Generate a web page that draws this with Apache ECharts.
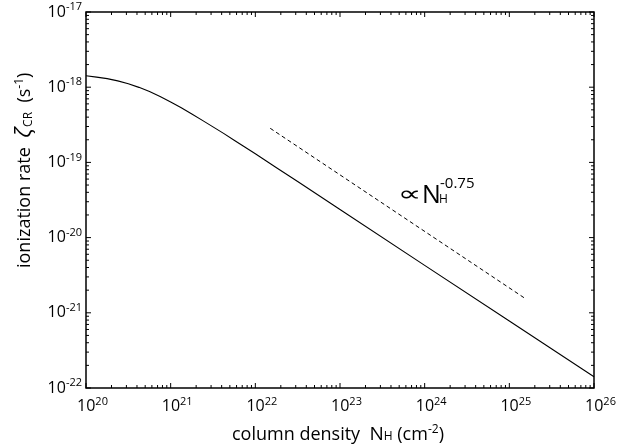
<!DOCTYPE html>
<html>
<head>
<meta charset="utf-8">
<script src="https://cdn.jsdelivr.net/npm/echarts@6/dist/echarts.min.js"></script>
<style>
html,body{margin:0;padding:0;background:#fff;}
#c{width:634px;height:448px;}
</style>
</head>
<body>
<div id="c"></div>
<script>
// Column density N_H (cm^-2)
var columnDensity = [1e20, 1.334e20, 1.778e20, 2.371e20, 3.162e20, 4.217e20, 5.623e20, 7.499e20,
  1e21, 1.334e21, 1.778e21, 2.371e21, 3.162e21, 4.217e21, 5.623e21, 7.499e21,
  1e22, 1.778e22, 3.162e22, 1e23, 1e24, 1e25, 1e26];
// Ionization rate zeta_CR (s^-1)
var ionizationRate = [1.419e-18, 1.361e-18, 1.300e-18, 1.213e-18, 1.114e-18, 9.95e-19, 8.75e-19, 7.52e-19,
  6.37e-19, 5.32e-19, 4.41e-19, 3.62e-19, 2.97e-19, 2.43e-19, 1.97e-19, 1.60e-19,
  1.30e-19, 8.51e-20, 5.56e-20, 2.36e-20, 4.27e-21, 7.76e-22, 1.41e-22];
// Power-law guide  ∝ N_H^-0.75
var guideN = [1.5e22, 1.5e25];
var guideZeta = [2.84e-19, 1.58e-21];
// Axis limits / tick labels
var xTicks = [1e20, 1e21, 1e22, 1e23, 1e24, 1e25, 1e26];
var yTicks = [1e-22, 1e-21, 1e-20, 1e-19, 1e-18, 1e-17];

// ECharts' log scale rounds to 10 decimals, so plot in units of the axis minimum
var XU = xTicks[0], YU = yTicks[0];
var XE = Math.round(Math.log10(XU)), YE = Math.round(Math.log10(YU));

var FONT = 'Open Sans';
var chart = echarts.init(document.getElementById('c'), null, {renderer: 'canvas'});

function pairs(a, b) { return a.map(function (v, i) { return [v / XU, b[i] / YU]; }); }
function lab(off) {
  return function (v) {
    var e = Math.round(Math.log10(v)) + off;
    return '{a|10}{s|' + e + '}';
  };
}
var richY = {
  a: {fontSize: 16, fontFamily: FONT, color: '#000'},
  s: {fontSize: 11, fontFamily: FONT, color: '#000', padding: [0, 0, 10, 0]}
};
var richX = {
  a: {fontSize: 16, fontFamily: FONT, color: '#000', padding: [0, 0, 0, 13]},
  s: {fontSize: 11, fontFamily: FONT, color: '#000', padding: [0, 0, 10, 0]}
};

// tick marks (major & minor) drawn through the axes' scales
function tickRender(params, api) {
  var children = [];
  var x0 = xTicks[0] / XU, x1 = xTicks[xTicks.length - 1] / XU;
  var y0 = yTicks[0] / YU, y1 = yTicks[yTicks.length - 1] / YU;
  var bl = api.coord([x0, y0]);
  var tr = api.coord([x1, y1]);
  var left = bl[0], bottom = bl[1], right = tr[0], top = tr[1];
  var st = {stroke: '#000', lineWidth: 1};
  function seg(a, b, c, d) {
    children.push({type: 'line', shape: {x1: a, y1: b, x2: c, y2: d}, style: st, silent: true});
  }
  var i, k, p;
  for (i = 0; i < xTicks.length; i++) {
    var dec = xTicks[i] / XU;
    p = api.coord([dec, y0])[0];
    seg(p, bottom, p, bottom - 5); seg(p, top, p, top + 5);
    if (i < xTicks.length - 1) {
      for (k = 2; k <= 9; k++) {
        p = api.coord([dec * k, y0])[0];
        seg(p, bottom, p, bottom - 3); seg(p, top, p, top + 3);
      }
    }
  }
  for (i = 0; i < yTicks.length; i++) {
    var d = yTicks[i] / YU;
    p = api.coord([x0, d])[1];
    seg(left, p, left + 5, p); seg(right, p, right - 5, p);
    if (i < yTicks.length - 1) {
      for (k = 2; k <= 9; k++) {
        p = api.coord([x0, d * k])[1];
        seg(left, p, left + 3, p); seg(right, p, right - 3, p);
      }
    }
  }
  return {type: 'group', children: children};
}

var option = {
  animation: false,
  backgroundColor: '#fff',
  grid: {left: 86, right: 40, top: 12, bottom: 60, show: true, borderColor: '#000', borderWidth: 1.5, backgroundColor: 'transparent'},
  xAxis: {
    type: 'log', logBase: 10, min: xTicks[0] / XU, max: xTicks[xTicks.length - 1] / XU,
    axisLine: {show: false}, axisTick: {show: false}, splitLine: {show: false},
    axisLabel: {formatter: lab(XE), rich: richX, margin: 8, color: '#000'}
  },
  yAxis: {
    type: 'log', logBase: 10, min: yTicks[0] / YU, max: yTicks[yTicks.length - 1] / YU,
    axisLine: {show: false}, axisTick: {show: false}, splitLine: {show: false},
    axisLabel: {formatter: lab(YE), rich: richY, margin: 4, color: '#000'}
  },
  series: [
    {type: 'line', data: pairs(columnDensity, ionizationRate), symbol: 'none', smooth: false,
     lineStyle: {color: '#000', width: 1.1}, silent: true},
    {type: 'line', data: pairs(guideN, guideZeta), symbol: 'none',
     lineStyle: {color: '#000', width: 1, type: [4, 3]}, silent: true},
    {type: 'custom', renderItem: tickRender, data: [[10, 10]], silent: true, clip: false, z: 5}
  ],
  graphic: [
    {type: 'text', left: 232, top: 424, style: {
      text: '{t|column density  }{n|N}{h|H}{t| (cm}{u|-2}{t|)}',
      rich: {
        t: {fontSize: 18, fontFamily: FONT, fill: '#000'},
        n: {fontSize: 19, fontFamily: FONT, fill: '#000'},
        h: {fontSize: 12, fontFamily: FONT, fill: '#000', padding: [4, 0, 0, 0]},
        u: {fontSize: 12, fontFamily: FONT, fill: '#000', padding: [0, 0, 10, 0]}
      }}},
    {type: 'text', x: 14, y: 268, rotation: Math.PI / 2, style: {
      text: '{t|ionization rate  }{z|ζ}{c|CR}{t|  (s}{u|-1}{t|)}',
      rich: {
        t: {fontSize: 18, fontFamily: FONT, fill: '#000'},
        z: {fontSize: 22, fontFamily: FONT, fontStyle: 'italic', fill: '#000'},
        c: {fontSize: 12, fontFamily: FONT, fill: '#000', padding: [7, 0, 0, 1]},
        u: {fontSize: 12, fontFamily: FONT, fill: '#000', padding: [0, 0, 10, 0]}
      }}},
    {type: 'text', x: 398, y: 195, scaleX: 1.5, style: {text: '∝', fontSize: 22, fontFamily: 'DejaVu Sans', fill: '#000', verticalAlign: 'middle'}},
    {type: 'text', x: 422, y: 196, style: {text: 'N', fontSize: 25, fontFamily: FONT, fill: '#000', verticalAlign: 'middle'}},
    {type: 'text', x: 439, y: 199.5, style: {text: 'H', fontSize: 12, fontFamily: FONT, fill: '#000', verticalAlign: 'middle'}},
    {type: 'text', x: 440, y: 183.5, style: {text: '-0.75', fontSize: 15, fontFamily: FONT, fill: '#000', verticalAlign: 'middle'}}
  ]
};
chart.setOption(option);
</script>
</body>
</html>
